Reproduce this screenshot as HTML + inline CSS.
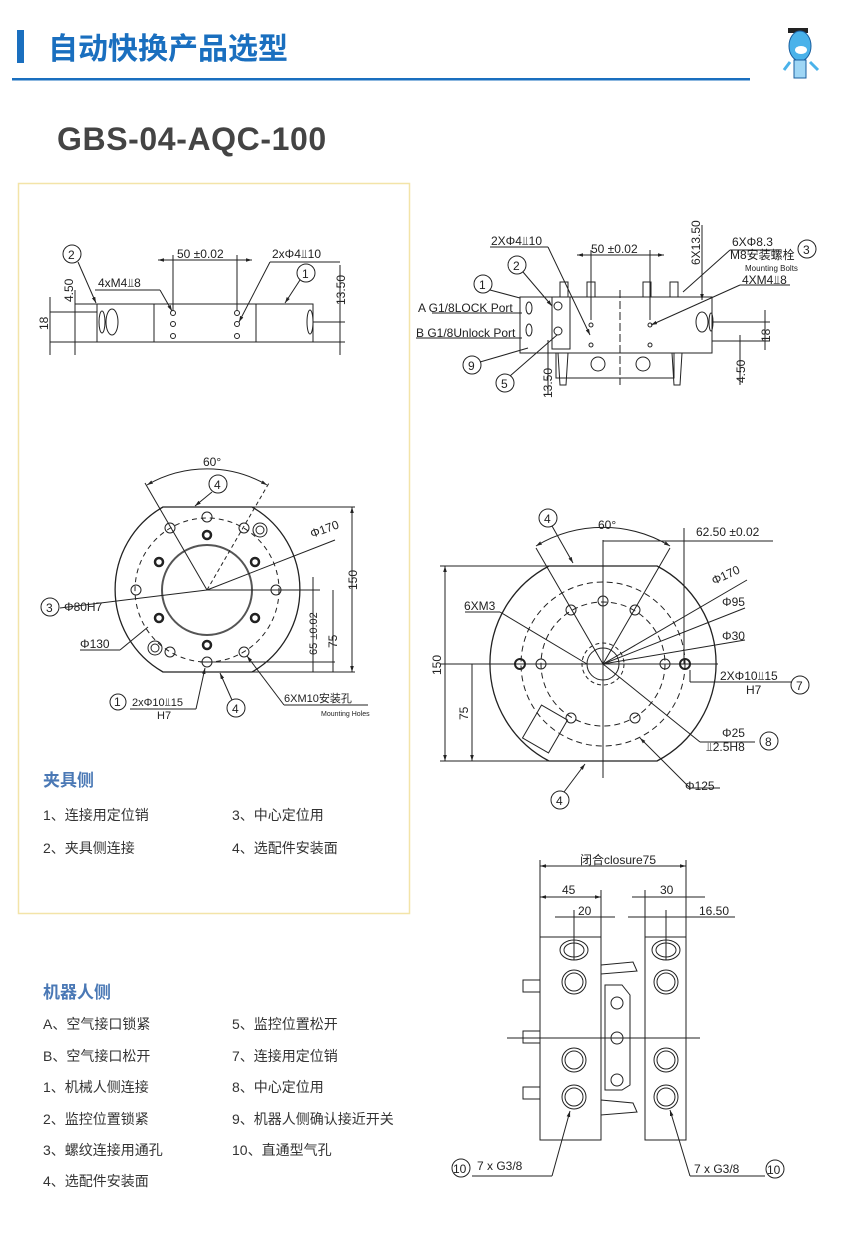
<!DOCTYPE html>
<html><head><meta charset="utf-8"><style>
body{margin:0;background:#fff;width:846px;height:1239px;overflow:hidden;font-family:"Liberation Sans","Noto Sans CJK SC",sans-serif}
svg{position:absolute;left:0;top:0}
.t{font-family:"Liberation Sans","Noto Sans CJK SC",sans-serif}
</style></head><body>
<svg width="846" height="1239" viewBox="0 0 846 1239" xmlns="http://www.w3.org/2000/svg">
<defs>
<marker id="a" viewBox="0 0 10 10" refX="10" refY="5" markerWidth="6" markerHeight="6" orient="auto-start-reverse"><path d="M0,2 L10,5 L0,8z" fill="#222"/></marker>
</defs>
<!-- header -->
<rect x="17" y="30" width="7" height="33" fill="#1a6fbf"/>
<text x="48" y="59" class="t" font-size="30" font-weight="bold" fill="#1a6fbf">自动快换产品选型</text>
<rect x="12" y="78" width="738" height="2.5" fill="#1a6fbf"/>
<!-- mascot -->
<g>
<rect x="788" y="28" width="20" height="5" fill="#222"/>
<ellipse cx="800" cy="46" rx="11" ry="15" fill="#4ab2ea" stroke="#1a5f9f"/>
<ellipse cx="801" cy="50" rx="6" ry="4" fill="#fff"/>
<path d="M790 62 L784 70 M810 62 L818 70" stroke="#4ab2ea" stroke-width="3"/>
<rect x="794" y="60" width="12" height="18" fill="#9fd6f5" stroke="#1a5f9f"/>
</g>
<text x="57" y="150" class="t" font-size="32" font-weight="bold" fill="#444" letter-spacing="0.6">GBS-04-AQC-100</text>
<rect x="18.5" y="183.5" width="391" height="730" fill="none" stroke="#f3e4a8" stroke-width="1.5"/>

<g stroke="#222" fill="none" stroke-width="1" font-size="12" class="t">
<!-- left top side view -->
<rect x="97" y="304" width="216" height="38"/>
<line x1="154" y1="304" x2="154" y2="342"/><line x1="256" y1="304" x2="256" y2="342"/>
<ellipse cx="112" cy="322" rx="6" ry="13"/><ellipse cx="102" cy="322" rx="3" ry="11"/><ellipse cx="310" cy="322" rx="3" ry="12"/>
<circle cx="173" cy="313" r="2.5"/><circle cx="173" cy="324" r="2.5"/><circle cx="173" cy="336" r="2.5"/>
<circle cx="237" cy="313" r="2.5"/><circle cx="237" cy="324" r="2.5"/><circle cx="237" cy="336" r="2.5"/>
<line x1="173" y1="255" x2="173" y2="310"/><line x1="237" y1="255" x2="237" y2="310"/>
<line x1="158" y1="260" x2="252" y2="260" marker-start="url(#a)" marker-end="url(#a)"/>
<line x1="50" y1="312" x2="97" y2="312"/><line x1="50" y1="342" x2="97" y2="342"/>
<line x1="50" y1="297" x2="50" y2="355"/><line x1="75" y1="304" x2="97" y2="304"/>
<line x1="75" y1="290" x2="75" y2="355"/>
<line x1="340" y1="265" x2="340" y2="355"/><line x1="313" y1="322" x2="345" y2="322"/><line x1="313" y1="342" x2="345" y2="342"/>
<circle cx="72" cy="254" r="9"/><line x1="78" y1="262" x2="96" y2="303" marker-end="url(#a)"/>
<circle cx="306" cy="273" r="9"/><line x1="300" y1="280" x2="285" y2="303" marker-end="url(#a)"/>
<line x1="95" y1="290" x2="160" y2="290"/><line x1="160" y1="290" x2="172" y2="311" marker-end="url(#a)"/>
<line x1="270" y1="262" x2="340" y2="262"/><line x1="270" y1="262" x2="239" y2="322" marker-end="url(#a)"/>
</g>
<g font-size="12" fill="#222" class="t">
<text x="68" y="259">2</text><text x="302" y="278">1</text>
<text x="177" y="258">50 ±0.02</text><text x="272" y="258">2xΦ4⫫10</text><text x="98" y="287">4xM4⫫8</text>
<text transform="translate(48,330) rotate(-90)">18</text><text transform="translate(73,302) rotate(-90)">4.50</text>
<text transform="translate(345,305) rotate(-90)">13.50</text>
</g>

<!-- left circle -->
<g stroke="#222" fill="none" stroke-width="1">
<path d="M163 507 L252 507 A95 95 0 0 1 252 672 L163 672 A95 95 0 0 1 163 507Z" stroke-width="1.3"/>
<circle cx="207" cy="590" r="72" stroke-dasharray="5 4"/>
<circle cx="207" cy="590" r="45" stroke-width="2" stroke="#555"/>
<circle cx="207" cy="517" r="5"/><circle cx="170" cy="528" r="5"/><circle cx="244" cy="528" r="5"/>
<circle cx="170" cy="652" r="5"/><circle cx="244" cy="652" r="5"/><circle cx="207" cy="662" r="5"/>
<g stroke-width="2.5"><circle cx="207" cy="535" r="4"/><circle cx="159" cy="562" r="4"/><circle cx="255" cy="562" r="4"/><circle cx="159" cy="618" r="4"/><circle cx="255" cy="618" r="4"/><circle cx="207" cy="645" r="4"/></g>
<circle cx="260" cy="530" r="7"/><circle cx="260" cy="530" r="4"/><circle cx="155" cy="648" r="7"/><circle cx="155" cy="648" r="4"/>
<circle cx="136" cy="590" r="5"/><circle cx="276" cy="590" r="5"/>
<line x1="207" y1="590" x2="145" y2="483"/><line x1="207" y1="590" x2="269" y2="483" stroke-dasharray="4 3"/>
<path d="M147 485 A120 120 0 0 1 267 485" marker-start="url(#a)" marker-end="url(#a)"/>
<line x1="252" y1="507" x2="355" y2="507"/><line x1="252" y1="672" x2="355" y2="672"/><line x1="200" y1="662" x2="335" y2="662"/><line x1="207" y1="590" x2="320" y2="590"/>
<line x1="352" y1="507" x2="352" y2="672" marker-start="url(#a)" marker-end="url(#a)"/>
<line x1="333" y1="590" x2="333" y2="672"/><line x1="313" y1="577" x2="313" y2="672"/>
<line x1="207" y1="590" x2="335" y2="540"/><line x1="60" y1="608" x2="207" y2="590"/>
<line x1="80" y1="650" x2="120" y2="650"/><line x1="120" y1="650" x2="148" y2="627"/>
<circle cx="218" cy="484" r="9"/><line x1="212" y1="492" x2="195" y2="506" marker-end="url(#a)"/>
<circle cx="50" cy="607" r="9"/>
<circle cx="118" cy="702" r="8"/><line x1="130" y1="709" x2="196" y2="709"/><line x1="196" y1="709" x2="205" y2="668" marker-end="url(#a)"/>
<circle cx="236" cy="708" r="9"/><line x1="232" y1="700" x2="220" y2="673" marker-end="url(#a)"/>
<line x1="284" y1="705" x2="368" y2="705"/><line x1="284" y1="705" x2="247" y2="656" marker-end="url(#a)"/>
</g>
<g font-size="12" fill="#222" class="t">
<text x="203" y="466">60°</text><text x="214" y="489">4</text><text x="46" y="612">3</text><text x="64" y="611">Φ80H7</text>
<text x="80" y="648">Φ130</text><text x="312" y="538" transform="rotate(-20 312 538)">Φ170</text>
<text transform="translate(357,590) rotate(-90)">150</text><text transform="translate(337,648) rotate(-90)">75</text>
<text transform="translate(317,655) rotate(-90)" font-size="11">65 ±0.02</text>
<text x="114" y="706">1</text><text x="132" y="706" font-size="11">2xΦ10⫫15</text><text x="157" y="719" font-size="11">H7</text>
<text x="232" y="713">4</text><text x="284" y="702" font-size="11">6XM10安装孔</text><text x="321" y="716" font-size="7">Mounting Holes</text>
</g>

<!-- right top -->
<g stroke="#222" fill="none" stroke-width="1">
<rect x="520" y="297" width="192" height="56"/>
<rect x="556" y="353" width="118" height="25"/>
<circle cx="598" cy="364" r="7"/><circle cx="643" cy="364" r="7"/>
<rect x="560" y="282" width="8" height="15"/><rect x="587" y="282" width="8" height="15"/><rect x="643" y="282" width="8" height="15"/><rect x="670" y="282" width="8" height="15"/>
<path d="M558 353 L560 385 L566 385 L568 353 M672 353 L674 385 L680 385 L682 353"/>
<rect x="552" y="297" width="18" height="52"/>
<circle cx="558" cy="306" r="4"/><circle cx="558" cy="331" r="4"/>
<ellipse cx="529" cy="308" rx="3" ry="6"/><ellipse cx="529" cy="330" rx="3" ry="6"/>
<ellipse cx="702" cy="322" rx="6" ry="10"/><ellipse cx="711" cy="322" rx="2" ry="9"/>
<circle cx="591" cy="325" r="2"/><circle cx="650" cy="325" r="2"/><circle cx="591" cy="345" r="2"/><circle cx="650" cy="345" r="2"/>
<line x1="620" y1="290" x2="620" y2="385" stroke-dasharray="8 3"/>
<line x1="591" y1="250" x2="591" y2="320"/><line x1="650" y1="250" x2="650" y2="320"/>
<line x1="577" y1="255" x2="664" y2="255" marker-start="url(#a)" marker-end="url(#a)"/>
<line x1="702" y1="225" x2="702" y2="300" marker-end="url(#a)"/>
<line x1="712" y1="322" x2="770" y2="322"/><line x1="712" y1="341" x2="770" y2="341"/><line x1="765" y1="310" x2="765" y2="350"/>
<line x1="740" y1="335" x2="740" y2="385"/>
<line x1="548" y1="340" x2="548" y2="395"/>
<line x1="490" y1="247" x2="548" y2="247"/><line x1="548" y1="247" x2="590" y2="335" marker-end="url(#a)"/>
<line x1="740" y1="285" x2="790" y2="285"/><line x1="740" y1="285" x2="651" y2="325" marker-end="url(#a)"/>
<line x1="730" y1="250" x2="780" y2="250"/><line x1="730" y1="250" x2="683" y2="292"/>
<circle cx="517" cy="265" r="9"/><line x1="523" y1="272" x2="552" y2="306" marker-end="url(#a)"/>
<circle cx="483" cy="284" r="9"/><line x1="490" y1="290" x2="520" y2="298"/>
<circle cx="472" cy="365" r="9"/><line x1="480" y1="362" x2="528" y2="348"/>
<circle cx="505" cy="383" r="9"/><line x1="510" y1="376" x2="557" y2="335"/>
<circle cx="807" cy="249" r="9"/>
<line x1="432" y1="313" x2="522" y2="313"/><line x1="416" y1="338" x2="522" y2="338"/>
</g>
<g font-size="12" fill="#222" class="t">
<text x="491" y="245">2XΦ4⫫10</text><text x="513" y="270">2</text><text x="479" y="289">1</text><text x="468" y="370">9</text><text x="501" y="388">5</text>
<text x="591" y="253">50 ±0.02</text><text x="732" y="246">6XΦ8.3</text><text x="730" y="259">M8安装螺栓</text>
<text x="745" y="271" font-size="8">Mounting Bolts</text><text x="742" y="284">4XM4⫫8</text><text x="803" y="254">3</text>
<text transform="translate(700,265) rotate(-90)">6X13.50</text>
<text x="418" y="312">A G1/8LOCK Port</text><text x="416" y="337">B G1/8Unlock Port</text>
<text transform="translate(770,342) rotate(-90)">18</text><text transform="translate(745,383) rotate(-90)">4.50</text>
<text transform="translate(552,398) rotate(-90)">13.50</text>
</g>

<!-- right circle -->
<g stroke="#222" fill="none" stroke-width="1">
<path d="M549 566 L657 566 A110 110 0 0 1 657 761 L549 761 A110 110 0 0 1 549 566Z" stroke-width="1.3"/>
<circle cx="603" cy="664" r="82" stroke-dasharray="6 4"/>
<circle cx="603" cy="664" r="62" stroke-dasharray="6 4"/>
<circle cx="603" cy="664" r="16"/><circle cx="603" cy="664" r="21" stroke-dasharray="4 3"/>
<circle cx="603" cy="601" r="5"/><circle cx="571" cy="610" r="5"/><circle cx="635" cy="610" r="5"/>
<circle cx="571" cy="718" r="5"/><circle cx="635" cy="718" r="5"/><circle cx="541" cy="664" r="5"/><circle cx="665" cy="664" r="5"/>
<circle cx="520" cy="664" r="5" stroke-width="2"/><circle cx="685" cy="664" r="5" stroke-width="2"/>
<line x1="440" y1="664" x2="718" y2="664"/><line x1="603" y1="540" x2="603" y2="778"/>
<line x1="603" y1="664" x2="536" y2="548"/><line x1="603" y1="664" x2="670" y2="548"/>
<path d="M536 546 A130 130 0 0 1 670 546" marker-start="url(#a)" marker-end="url(#a)"/>
<line x1="603" y1="541" x2="773" y2="541"/><line x1="684" y1="528" x2="684" y2="664"/>
<line x1="440" y1="566" x2="549" y2="566"/><line x1="440" y1="761" x2="549" y2="761"/>
<line x1="445" y1="566" x2="445" y2="761" marker-start="url(#a)" marker-end="url(#a)"/>
<line x1="472" y1="664" x2="472" y2="761" marker-end="url(#a)"/>
<line x1="603" y1="664" x2="747" y2="580"/><line x1="603" y1="664" x2="745" y2="608"/><line x1="603" y1="664" x2="745" y2="640"/>
<line x1="465" y1="612" x2="500" y2="612"/><line x1="500" y1="612" x2="587" y2="664"/>
<line x1="603" y1="664" x2="700" y2="742"/><line x1="700" y1="742" x2="755" y2="742"/>
<line x1="690" y1="788" x2="720" y2="788"/><line x1="690" y1="788" x2="640" y2="738" marker-end="url(#a)"/>
<line x1="690" y1="682" x2="792" y2="682"/><line x1="690" y1="682" x2="690" y2="670"/>
<rect x="530" y="710" width="30" height="38" transform="rotate(30 545 729)"/>
<circle cx="548" cy="518" r="9"/><line x1="552" y1="526" x2="573" y2="563" marker-end="url(#a)"/>
<circle cx="560" cy="800" r="9"/><line x1="564" y1="792" x2="585" y2="764" marker-end="url(#a)"/>
<circle cx="800" cy="685" r="9"/><circle cx="769" cy="741" r="9"/>
</g>
<g font-size="12" fill="#222" class="t">
<text x="544" y="523">4</text><text x="556" y="805">4</text><text x="796" y="690">7</text><text x="765" y="746">8</text>
<text x="598" y="529">60°</text><text x="696" y="536">62.50 ±0.02</text>
<text x="714" y="585" transform="rotate(-25 714 585)">Φ170</text><text x="722" y="606">Φ95</text><text x="722" y="640">Φ30</text>
<text x="464" y="610">6XM3</text><text x="720" y="680">2XΦ10⫫15</text><text x="746" y="694">H7</text>
<text x="722" y="737">Φ25</text><text x="706" y="751">⫫2.5H8</text><text x="685" y="790">Φ125</text>
<text transform="translate(441,675) rotate(-90)">150</text><text transform="translate(468,720) rotate(-90)">75</text>
</g>

<!-- bottom right -->
<g stroke="#222" fill="none" stroke-width="1">
<rect x="540" y="937" width="61" height="203"/><rect x="645" y="937" width="41" height="203"/>
<line x1="540" y1="860" x2="540" y2="937"/><line x1="686" y1="860" x2="686" y2="937"/><line x1="601" y1="890" x2="601" y2="937"/><line x1="645" y1="890" x2="645" y2="937"/>
<line x1="540" y1="866" x2="686" y2="866" marker-start="url(#a)" marker-end="url(#a)"/>
<line x1="540" y1="897" x2="601" y2="897" marker-start="url(#a)" marker-end="url(#a)"/>
<line x1="632" y1="897" x2="705" y2="897"/>
<line x1="555" y1="917" x2="615" y2="917"/><line x1="628" y1="917" x2="735" y2="917"/>
<line x1="574" y1="910" x2="574" y2="960"/><line x1="666" y1="910" x2="666" y2="960"/>
<ellipse cx="574" cy="950" rx="14" ry="10"/><ellipse cx="574" cy="950" rx="10" ry="7"/>
<ellipse cx="666" cy="950" rx="14" ry="10"/><ellipse cx="666" cy="950" rx="10" ry="7"/>
<circle cx="574" cy="982" r="12"/><circle cx="574" cy="982" r="9"/><circle cx="666" cy="982" r="12"/><circle cx="666" cy="982" r="9"/>
<circle cx="574" cy="1060" r="12"/><circle cx="574" cy="1060" r="9"/><circle cx="666" cy="1060" r="12"/><circle cx="666" cy="1060" r="9"/>
<circle cx="574" cy="1097" r="12"/><circle cx="574" cy="1097" r="9"/><circle cx="666" cy="1097" r="12"/><circle cx="666" cy="1097" r="9"/>
<path d="M601 965 L633 962 L637 971 L601 974Z M601 1100 L633 1103 L637 1112 L601 1115Z"/>
<path d="M605 985 L622 985 L630 995 L630 1085 L622 1090 L605 1090Z"/>
<circle cx="617" cy="1003" r="6"/><circle cx="617" cy="1038" r="6"/><circle cx="617" cy="1080" r="6"/>
<rect x="523" y="980" width="17" height="12"/><rect x="523" y="1031" width="17" height="12"/><rect x="523" y="1087" width="17" height="12"/>
<line x1="507" y1="1038" x2="700" y2="1038"/>
<circle cx="461" cy="1168" r="9"/><line x1="472" y1="1176" x2="552" y2="1176"/><line x1="552" y1="1176" x2="570" y2="1111" marker-end="url(#a)"/>
<circle cx="775" cy="1169" r="9"/><line x1="690" y1="1176" x2="765" y2="1176"/><line x1="690" y1="1176" x2="670" y2="1110" marker-end="url(#a)"/>
</g>
<g font-size="12" fill="#222" class="t">
<text x="580" y="864">闭合closure75</text><text x="562" y="894">45</text><text x="660" y="894">30</text>
<text x="578" y="915">20</text><text x="699" y="915">16.50</text>
<text x="453" y="1173">10</text><text x="477" y="1170">7 x  G3/8</text><text x="694" y="1173">7 x  G3/8</text><text x="767" y="1174">10</text>
</g>

<!-- text lists -->
<g class="t" fill="#333" font-size="14">
<text x="43" y="786" font-size="17" font-weight="bold" fill="#4a78b5">夹具侧</text>
<text x="43" y="820">1、连接用定位销</text><text x="232" y="820">3、中心定位用</text>
<text x="43" y="853">2、夹具侧连接</text><text x="232" y="853">4、选配件安装面</text>
<text x="43" y="998" font-size="17" font-weight="bold" fill="#4a78b5">机器人侧</text>
<text x="43" y="1029">A、空气接口锁紧</text><text x="232" y="1029">5、监控位置松开</text>
<text x="43" y="1061">B、空气接口松开</text><text x="232" y="1061">7、连接用定位销</text>
<text x="43" y="1092">1、机械人侧连接</text><text x="232" y="1092">8、中心定位用</text>
<text x="43" y="1124">2、监控位置锁紧</text><text x="232" y="1124">9、机器人侧确认接近开关</text>
<text x="43" y="1155">3、螺纹连接用通孔</text><text x="232" y="1155">10、直通型气孔</text>
<text x="43" y="1186">4、选配件安装面</text>
</g>
</svg>
</body></html>
